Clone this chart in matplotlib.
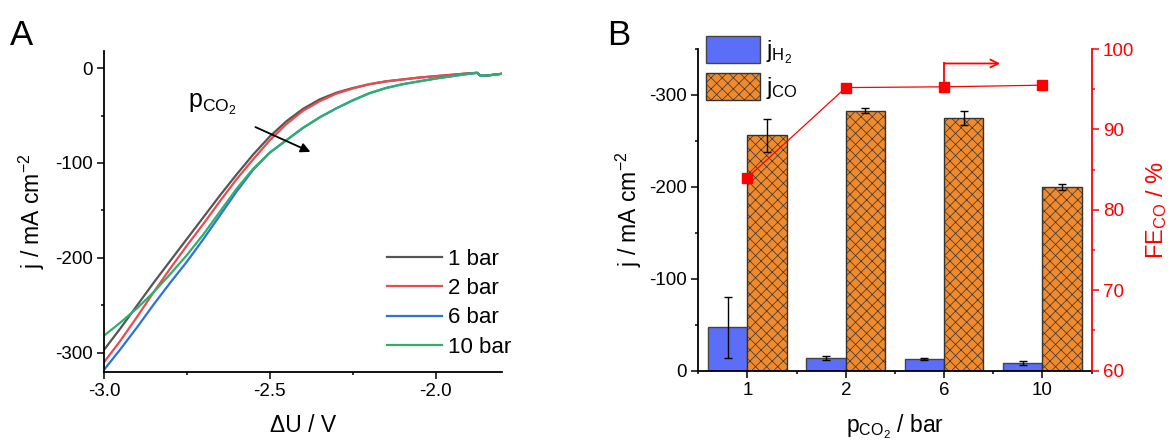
import numpy as np
import matplotlib
matplotlib.use("Agg")
import matplotlib.pyplot as plt
from matplotlib.ticker import MultipleLocator, FixedLocator, FormatStrFormatter

plt.rcParams['font.family'] = ['Liberation Sans', 'DejaVu Sans']
plt.rcParams['mathtext.fontset'] = 'custom'
plt.rcParams['mathtext.rm'] = 'Liberation Sans'
plt.rcParams['mathtext.it'] = 'Liberation Sans:italic'
plt.rcParams['axes.unicode_minus'] = False
plt.rcParams['hatch.linewidth'] = 0.5
plt.rcParams['hatch.color'] = '#222222'

# --- LSV curves (panel A) ---
U = [-3.00, -2.95, -2.90, -2.85, -2.80, -2.75, -2.70, -2.65, -2.60, -2.55,
     -2.50, -2.45, -2.40, -2.35, -2.30, -2.25, -2.20, -2.15, -2.10, -2.05,
     -2.00, -1.95, -1.90, -1.875, -1.865, -1.85, -1.80]
j_1bar = [-297, -274, -250, -226, -203, -180, -157, -134, -112, -91,
          -72, -56, -43, -33, -26, -21, -17, -14, -12, -10,
          -8.5, -7, -5.5, -5, -8, -8, -6]
j_2bar = [-310, -287, -262, -236, -211, -187, -164, -140, -117, -96,
          -76, -59, -45, -35, -27, -21.5, -17, -14, -12, -10,
          -8.5, -7, -5.5, -5, -8, -8, -6]
j_6bar = [-318, -296, -273, -249, -226, -204, -180, -155, -130, -107,
          -89, -76, -63, -52, -42.5, -34, -26.5, -21, -17, -14,
          -11, -8.5, -6, -5, -8, -8, -6]
j_10bar = [-282, -268, -253, -236, -217, -197, -175, -151, -127, -106,
           -89, -76, -63, -52, -42.5, -34, -26.5, -21, -17, -14,
           -11, -8.5, -6, -5, -8, -8, -6]
lsv_labels = ['1 bar', '2 bar', '6 bar', '10 bar']
lsv_colors = ['#555555', '#ea4a50', '#2a72dd', '#2fb06a']

# --- electrolysis results (panel B) ---
pressures = ['1', '2', '6', '10']
j_H2 = [-47, -13.5, -12.5, -8.5]
j_H2_err = [33, 2, 1, 2.2]
j_CO = [-256, -283, -275, -200]
j_CO_err = [18, 3, 7.5, 3]
FE_CO = [84.0, 95.2, 95.3, 95.5]

fig = plt.figure(figsize=(11.7, 4.42), dpi=100)
axA = fig.add_axes([0.0889, 0.159, 0.3402, 0.7256])
axB = fig.add_axes([0.5968, 0.1617, 0.3362, 0.7274])

TICK_FS = 13.5
LABEL_FS = 16.5
tick_kw = dict(direction='out', labelsize=TICK_FS, pad=3)

# panel A
for jj, lab, col in zip([j_1bar, j_2bar, j_6bar, j_10bar], lsv_labels, lsv_colors):
    axA.plot(U, jj, color=col, lw=1.6, label=lab)
axA.set_xlim(-3.0, -1.8)
axA.set_ylim(-320, 18)
axA.xaxis.set_major_locator(MultipleLocator(0.5))
axA.xaxis.set_minor_locator(MultipleLocator(0.25))
axA.yaxis.set_major_locator(MultipleLocator(100))
axA.yaxis.set_minor_locator(MultipleLocator(50))
axA.xaxis.set_major_formatter(FormatStrFormatter('%.1f'))
axA.tick_params(which='major', length=5, width=1.1, **tick_kw)
axA.tick_params(which='minor', length=2.5, width=1.1, direction='out')
for s in ['top', 'right']:
    axA.spines[s].set_visible(False)
for s in ['left', 'bottom']:
    axA.spines[s].set_linewidth(1.3)
axA.set_xlabel('ΔU / V', fontsize=LABEL_FS, labelpad=10)
axA.set_ylabel(r'j / mA cm$^{-2}$', fontsize=LABEL_FS, labelpad=6)
axA.legend(loc='upper left', bbox_to_anchor=(0.71, 0.384), frameon=False,
           fontsize=16, handlelength=2.5, handletextpad=0.28,
           labelspacing=0.38, borderpad=0, borderaxespad=0)
axA.annotate('', xy=(-2.37, -89.5), xytext=(-2.551, -61),
             arrowprops=dict(arrowstyle='-|>', color='black', lw=1.3,
                             mutation_scale=14))
axA.text(-2.747, -38, r'$\mathrm{p_{CO_2}}$', fontsize=18, va='center', ha='left')

# panel B
x = np.arange(1, len(pressures) + 1)
w = 0.4
axB.bar(x - w / 2, j_H2, w, color='#5b6ef7', edgecolor='#444444', lw=1.0,
        label=r'$\mathrm{j_{H_2}}$')
axB.bar(x + w / 2, j_CO, w, color='#f08a2c', edgecolor='#333333', lw=1.0,
        hatch='xxx', label=r'$\mathrm{j_{CO}}$')
axB.errorbar(x - w / 2, j_H2, yerr=j_H2_err, fmt='none', ecolor='black',
             elinewidth=1.0, capsize=3, capthick=1.0)
axB.errorbar(x + w / 2, j_CO, yerr=j_CO_err, fmt='none', ecolor='black',
             elinewidth=1.0, capsize=3, capthick=1.0)
axB.set_xlim(0.5, 4.5)
axB.set_ylim(0, -350)
axB.set_xticks(x)
axB.set_xticklabels(pressures)
axB.xaxis.set_minor_locator(FixedLocator([0.5, 1.5, 2.5, 3.5, 4.5]))
axB.yaxis.set_major_locator(MultipleLocator(100))
axB.yaxis.set_minor_locator(MultipleLocator(50))
axB.tick_params(which='major', length=5, width=1.1, **tick_kw)
axB.tick_params(which='minor', length=2.5, width=1.1, direction='out')
axB.spines['top'].set_visible(False)
axB.spines['right'].set_visible(False)
for s in ['left', 'bottom']:
    axB.spines[s].set_linewidth(1.3)
axB.set_xlabel(r'$\mathrm{p_{CO_2}}$ / bar', fontsize=LABEL_FS, labelpad=10)
axB.set_ylabel(r'j / mA cm$^{-2}$', fontsize=LABEL_FS, labelpad=4)
axB.legend(loc='upper left', bbox_to_anchor=(0.0196, 1.04), frameon=False,
           fontsize=17, handlelength=2.29, handleheight=1.35,
           handletextpad=0.25, labelspacing=0.3, borderpad=0, borderaxespad=0)

# faradaic efficiency on the right axis
axR = axB.twinx()
axR.plot(x, FE_CO, color='red', lw=0.9, marker='s', ms=6.5)
axR.set_ylim(60, 100)
axR.yaxis.set_major_locator(MultipleLocator(10))
axR.yaxis.set_minor_locator(MultipleLocator(5))
axR.tick_params(which='major', length=5, width=1.1, colors='red', **tick_kw)
axR.tick_params(which='minor', length=2.5, width=1.1, colors='red', direction='out')
for s in ['top', 'left', 'bottom']:
    axR.spines[s].set_visible(False)
axR.spines['right'].set_color('red')
axR.spines['right'].set_linewidth(1.3)
axR.set_ylabel(r'FE$_{\mathrm{CO}}$ / %', color='red', fontsize=17, labelpad=7)
axR.annotate('', xy=(3.57, 98.2), xytext=(3, 98.2),
             arrowprops=dict(arrowstyle='->', color='red', lw=1.3,
                             mutation_scale=14, shrinkA=0, shrinkB=0))
axR.plot([x[2], x[2]], [FE_CO[2], 98.2], color='red', lw=1.3)

fig.text(10 / 1170, 1 - 19 / 442, 'A', fontsize=25, va='top', ha='left')
fig.text(607 / 1170, 1 - 19 / 442, 'B', fontsize=25, va='top', ha='left')

fig.savefig('out.png', dpi=100)
